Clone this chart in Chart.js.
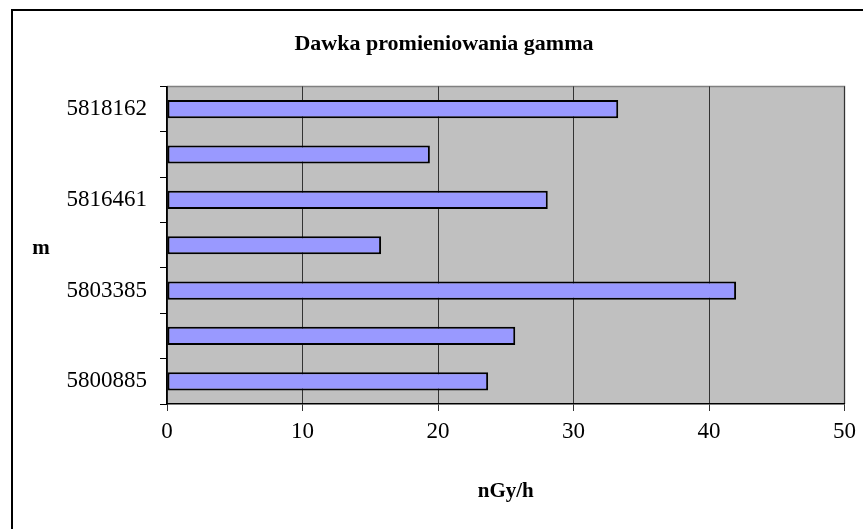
<!DOCTYPE html>
<html>
<head>
<meta charset="utf-8">
<script src="https://cdn.jsdelivr.net/npm/chart.js@4"></script>
<style>
  body { margin: 0; background: #fff; }
  #wrap { width: 863px; height: 529px; }
</style>
</head>
<body>
<div id="wrap"><canvas id="myChart" width="863" height="529"></canvas></div>
<script>
// categories top to bottom (every second label is not shown on the original)
var categories = ['5818162', '', '5816461', '', '5803385', '', '5800885'];
// dose, nGy/h
var doses = [33.3, 19.4, 28.1, 15.8, 42.0, 25.7, 23.7];
var xTicks = [0, 10, 20, 30, 40, 50];

var serif = '"Liberation Serif", "Times New Roman", serif';

// white page, grey plot area, outer frame and the horizontal "m" label
var frame = {
    id: 'frame',
    beforeDraw: function (chart) {
        var ctx = chart.ctx, a = chart.chartArea;
        ctx.save();
        ctx.fillStyle = '#fff';
        ctx.fillRect(0, 0, chart.width, chart.height);
        ctx.fillStyle = '#c0c0c0';
        ctx.fillRect(a.left, a.top, a.right - a.left, a.bottom - a.top);
        ctx.strokeStyle = '#808080';
        ctx.lineWidth = 1.5;
        ctx.beginPath();
        ctx.moveTo(a.left, a.top);
        ctx.lineTo(a.right, a.top);
        ctx.lineTo(a.right, a.bottom);
        ctx.stroke();
        ctx.strokeStyle = '#000';
        ctx.lineWidth = 2;
        ctx.beginPath();
        ctx.moveTo(12, chart.height + 2);
        ctx.lineTo(12, 10);
        ctx.lineTo(chart.width + 2, 10);
        ctx.stroke();
        ctx.restore();
    },
    afterDraw: function (chart) {
        var ctx = chart.ctx, a = chart.chartArea;
        ctx.save();
        ctx.fillStyle = '#000';
        ctx.font = 'bold 21px ' + serif;
        ctx.textAlign = 'center';
        ctx.textBaseline = 'middle';
        ctx.fillText('m', 41, (a.top + a.bottom) / 2 + 3);
        ctx.restore();
    }
};

var data = {
    labels: categories,
    datasets: [{
        data: doses,
        backgroundColor: '#9999ff',
        borderColor: '#000',
        borderWidth: 2,
        borderSkipped: false,
        categoryPercentage: 1,
        barPercentage: 0.4
    }]
};

var config = {
    type: 'bar',
    data: data,
    options: {
        indexAxis: 'y',
        responsive: false,
        animation: false,
        layout: { padding: { left: 40, right: 15, top: 0, bottom: 0 } },
        plugins: {
            legend: { display: false },
            tooltip: { enabled: false },
            title: {
                display: true,
                text: 'Dawka promieniowania gamma',
                color: '#000',
                font: { family: serif, size: 22, weight: 'bold' },
                padding: { top: 31, bottom: 29 }
            }
        },
        scales: {
            x: {
                min: 0,
                max: 50,
                afterBuildTicks: function (scale) {
                    scale.ticks = xTicks.map(function (v) { return { value: v }; });
                },
                afterFit: function (scale) { scale.height = 125; },
                grid: { color: '#333', lineWidth: 1, tickLength: 7, drawTicks: true },
                border: { color: '#000', width: 1.5 },
                ticks: { color: '#000', padding: 7, font: { family: serif, size: 23 } },
                title: {
                    display: true,
                    text: 'nGy/h',
                    color: '#000',
                    font: { family: serif, size: 21, weight: 'bold' },
                    padding: { top: 0, bottom: 25 }
                }
            },
            y: {
                afterFit: function (scale) { scale.width = 127; },
                grid: { drawOnChartArea: false, color: '#000', tickLength: 7, offset: true },
                border: { color: '#000', width: 1.5 },
                ticks: { color: '#000', padding: 13, autoSkip: false, font: { family: serif, size: 23 } }
            }
        }
    },
    plugins: [frame]
};

var myChart = new Chart(document.getElementById('myChart'), config);
</script>
</body>
</html>
